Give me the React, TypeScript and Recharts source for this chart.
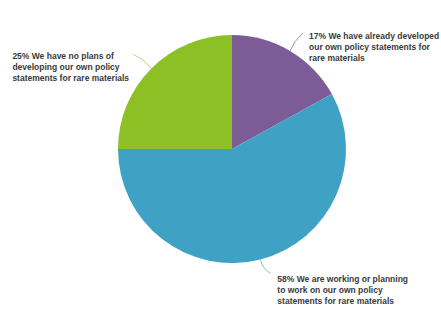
import React from "react";
import { PieChart, Pie, Cell } from "recharts";

const categories = [
  "We have already developed our own policy statements for rare materials",
  "We are working or planning to work on our own policy statements for rare materials",
  "We have no plans of developing our own policy statements for rare materials",
];
const values = [17, 58, 25];
const labelLines = [
  ["17% We have already developed", "our own policy statements for", "rare materials"],
  ["58% We are working or planning", "to work on our own policy", "statements for rare materials"],
  ["25% We have no plans of", "developing our own policy", "statements for rare materials"],
];
const colors = ["#7d5b96", "#3fa2c5", "#8cc024"];
const leaderColors = ["#9a8aa8", "#8fb8c8", "#b9d08a"];

const data = categories.map((name, i) => ({ name, value: values[i] }));

const leader = [
  { ex: 13, ey: -18, cx: 4, cy: -10, tx: 6, ty: 6 },
  { ex: 10, ey: 14, cx: 2, cy: 9, tx: 7, ty: 9 },
  { ex: -18, ey: -14, cx: -8, cy: -10, tx: -121, ty: 5 },
];

const RAD = Math.PI / 180;

const renderLabel = (props: any) => {
  const { cx, cy, midAngle, outerRadius, index } = props;
  const sx = cx + outerRadius * Math.cos(-midAngle * RAD);
  const sy = cy + outerRadius * Math.sin(-midAngle * RAD);
  const l = leader[index];
  const ex = sx + l.ex;
  const ey = sy + l.ey;
  const qx = sx + l.cx;
  const qy = sy + l.cy;
  const tx = ex + l.tx;
  const ty = ey + l.ty;
  return (
    <g key={`lbl-${index}`}>
      <path
        d={`M${sx},${sy} Q${qx},${qy} ${ex},${ey}`}
        stroke={leaderColors[index]}
        strokeWidth={1}
        fill="none"
      />
      <text
        x={tx}
        y={ty}
        fill="#3a3a3a"
        fontFamily="Liberation Sans, Arial, sans-serif"
        fontWeight="bold"
        fontSize={8.5}
      >
        {labelLines[index].map((line, j) => (
          <tspan key={j} x={tx} dy={j === 0 ? 0 : 11}>
            {line}
          </tspan>
        ))}
      </text>
    </g>
  );
};

export default function App() {
  return (
    <div style={{ position: "absolute", left: 0, top: 0, background: "#fff" }}>
      <PieChart width={441} height={310} margin={{ top: 0, right: 0, bottom: 0, left: 0 }}>
        <Pie
          data={data}
          dataKey="value"
          nameKey="name"
          cx={232}
          cy={149}
          outerRadius={114}
          startAngle={90}
          endAngle={-270}
          stroke="none"
          isAnimationActive={false}
          label={renderLabel}
          labelLine={false}
        >
          {data.map((d, i) => (
            <Cell key={d.name} fill={colors[i]} />
          ))}
        </Pie>
      </PieChart>
    </div>
  );
}
